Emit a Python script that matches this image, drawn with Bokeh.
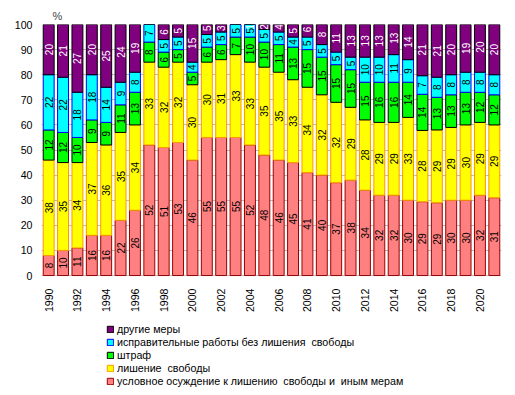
import math
from bokeh.plotting import figure
from bokeh.models import (ColumnDataSource, Legend, LegendItem, FixedTicker,
                          LinearAxis, Range1d)
from bokeh.core.properties import value
from bokeh.embed import file_html
from bokeh.resources import INLINE

years = list(range(1990, 2022))
conditional = [8, 10, 11, 16, 16, 22, 26, 52, 51, 53, 46, 55, 55, 55, 52, 48,
               46, 45, 41, 40, 37, 38, 34, 32, 32, 30, 29.4, 29, 30, 30, 32, 31]
prison = [38, 35, 34, 37, 36, 35, 34, 33, 32, 32, 30, 30, 31, 33, 33, 35,
          35, 33, 34, 32, 32, 29, 28, 29, 29, 33, 28.4, 29, 29, 30, 29, 29]
fine = [12, 12, 10, 9, 9, 11, 13, 8, 6, 5, 5, 6, 6, 7, 10, 10,
        11, 13, 15, 15, 15, 15, 15, 16, 16, 14, 14.4, 13, 13, 13, 12, 12]
corrective = [22, 22, 18, 18, 14, 9, 8, 7, 5, 5, 4, 5, 5, 5, 5, 5,
              5, 4, 5, 5, 5, 5, 10, 10, 11, 9, 7.4, 8, 8, 8, 8, 8]
other = [20, 21, 27, 20, 25, 24, 19, 0, 6, 5, 15, 5, 3, 0, 1, 2,
         4, 5, 6, 8, 11, 13, 13, 13, 13, 14, 20.6, 21, 20, 19, 20, 20]

series_names = ["conditional", "prison", "fine", "corrective", "other"]
series_values = [conditional, prison, fine, corrective, other]
series_labels = ["условное осуждение к лишению  свободы и  иным мерам",
                 "лишение  свободы",
                 "штраф",
                 "исправительные работы без лишения  свободы",
                 "другие меры"]
fills = ["#FF8080", "#FFFF00", "#00FF00", "#00FFFF", "#800080"]
lines = ["#990000", "#FF9900", "#000000", "#0000FF", "#000000"]
text_colors = ["black", "black", "black", "black", "white"]
tick_years = list(range(1990, 2021, 2))
y_ticks = list(range(0, 101, 10))

data = {"year": years}
for n, v in zip(series_names, series_values):
    data[n] = v
source = ColumnDataSource(data)

p = figure(width=507, height=387, output_backend="svg", toolbar_location=None,
           x_range=Range1d(1989.5, 2021.5), y_range=Range1d(-44.6, 100),
           x_axis_location=None,
           min_border_left=41, min_border_right=6, min_border_top=24,
           min_border_bottom=0, title="%")
p.title.align = "left"
p.title.offset = 11
p.title.standoff = 5
p.title.text_font = "Liberation Sans"
p.title.text_font_size = "11px"
p.title.text_font_style = "normal"
p.outline_line_color = None
p.background_fill_color = "white"

renderers = p.vbar_stack(series_names, x="year", width=0.76, source=source,
                         fill_color=fills, line_color=lines, line_width=1)

# labels
lx, ly, lt, lc = [], [], [], []
for i, y in enumerate(years):
    base = 0
    for k, vals in enumerate(series_values):
        v = vals[i]
        if v > 0:
            lx.append(y)
            ly.append(min(base + v / 2.0, 99))
            lt.append(str(int(round(v))))
            lc.append(text_colors[k])
        base += v
lsrc = ColumnDataSource(dict(x=lx, y=ly, t=lt, c=lc))
p.text(x="x", y="y", text="t", source=lsrc, angle=math.pi / 2,
       text_align="center", text_baseline="middle", text_color="c",
       text_font=value("Liberation Sans"), text_font_size="10px")

xaxis = LinearAxis(ticker=FixedTicker(ticks=tick_years), fixed_location=0)
xaxis.major_label_orientation = math.pi / 2
p.add_layout(xaxis, "below")

p.xgrid.grid_line_color = None
p.ygrid.grid_line_color = "#BBBBBB"
p.ygrid.ticker = FixedTicker(ticks=y_ticks)
p.yaxis.ticker = FixedTicker(ticks=y_ticks)
p.yaxis.bounds = (0, 100)

for ax in (xaxis, p.yaxis[0]):
    ax.axis_line_color = None
    ax.major_tick_line_color = None
    ax.minor_tick_line_color = None
    ax.major_tick_out = 0
    ax.major_tick_in = 0
    ax.major_label_text_font = "Liberation Sans"
    ax.major_label_text_font_size = "10.6px"
    ax.major_label_text_color = "black"
p.yaxis.major_label_standoff = 9
xaxis.major_label_standoff = 13

items = [LegendItem(label=series_labels[k], renderers=[renderers[k]]) for k in range(4, -1, -1)]
legend = Legend(items=items, location=(65, 0), orientation="vertical",
                glyph_width=8, glyph_height=8, label_height=13, spacing=0,
                label_standoff=3, padding=0, margin=0,
                border_line_color=None, background_fill_alpha=0,
                label_text_font="Liberation Sans", label_text_font_size="10.7px",
                label_text_color="black")
p.add_layout(legend, "center")

open("out.html", "w").write(file_html(p, INLINE))
